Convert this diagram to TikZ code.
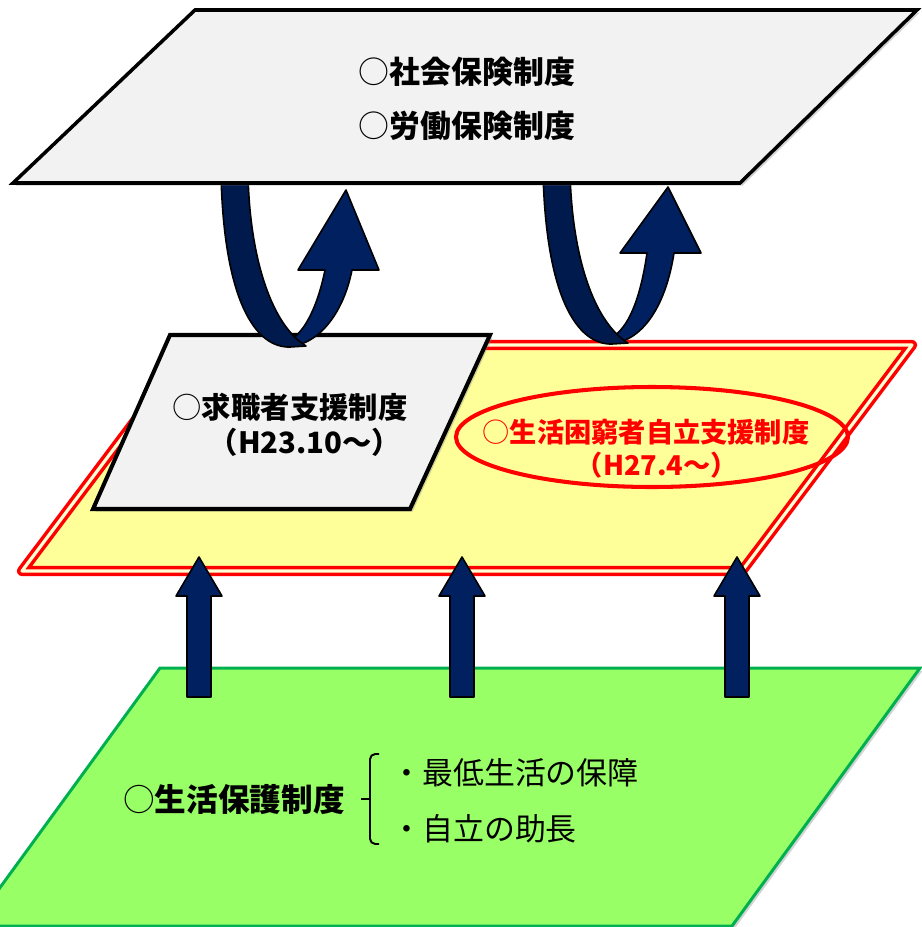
\documentclass[tikz,border=0pt]{standalone}
\usepackage{fontspec}
\setmainfont{Noto Sans CJK JP}
\usepackage{tikz}
\usetikzlibrary{shadows}

\definecolor{layergray}{HTML}{F2F2F2}
\definecolor{layeryellow}{HTML}{FFFF99}
\definecolor{layergreen}{HTML}{99FF66}
\definecolor{greenedge}{HTML}{00B050}
\definecolor{navy}{HTML}{002060}
\definecolor{navydark}{HTML}{001A4D}
\definecolor{kred}{HTML}{FF0000}
\newcommand{\maru}{{\mdseries ○}}

\begin{document}
\begin{tikzpicture}[
    x=0.02cm,y=-0.02cm,
    layer/.style={line join=miter,drop shadow={shadow xshift=1.5pt,shadow yshift=-1.5pt,opacity=.35}},
    ribbon/.style={draw=black,line width=0.9pt,line join=round},
    uparrow/.style={ribbon,fill=navy},
    bigtext/.style={font=\fontsize{17.6pt}{20pt}\selectfont\bfseries,inner sep=0pt},
    midtext/.style={font=\fontsize{16.7pt}{19pt}\selectfont\bfseries,inner sep=0pt},
    redtext/.style={font=\fontsize{15.5pt}{18pt}\selectfont\bfseries,text=kred,inner sep=0pt},
    listtext/.style={font=\fontsize{17.6pt}{20pt}\selectfont,anchor=west,inner sep=0pt}
  ]
    \useasboundingbox (0,0) rectangle (922,927);
    % bottom layer
    \filldraw[layer,fill=layergreen,draw=greenedge,line width=1.7pt]
      (-28,926) -- (732,926) -- (920,668) -- (160,668) -- cycle;
    % middle layer
    \filldraw[layer,fill=layeryellow,draw=kred,line width=2pt,
      double=white!60!layeryellow,double distance=1.8pt,line join=round]
      (22,571) -- (742,571) -- (912,345) -- (192,345) -- cycle;
    \draw[kred,line width=2.3pt] (652,437) ellipse [x radius=196,y radius=50];
    \filldraw[layer,fill=layergray,draw=black,line width=2.3pt]
      (93,509) -- (410,509) -- (490,335) -- (170,335) -- cycle;
    % u-turn arrows
    \foreach \dx/\dy/\hy in {0/0/270,322/-3/256}{
      \begin{scope}[shift={(\dx,\dy)}]
        \filldraw[ribbon,fill=navy] (282,346) .. controls (312,350) and (342,320) .. (352,\hy)
          -- (379,\hy) -- (346,190) -- (298,\hy) -- (325,\hy)
          .. controls (318,305) and (305,332) .. (290,340) -- cycle;
        \filldraw[ribbon,fill=navydark] (221,175) -- (248,175)
          .. controls (250,260) and (272,325) .. (306,346) -- (290,347)
          .. controls (255,348) and (224,300) .. (221,175) -- cycle;
      \end{scope}
    }
    % top layer
    \filldraw[layer,fill=layergray,draw=black,line width=2pt]
      (13,183) -- (740,183) -- (917,10) -- (195,10) -- cycle;
    % up arrows
    \foreach \ax in {199,462,737}
      \filldraw[uparrow] (\ax-12,697) -- (\ax-12,596) -- (\ax-23,596) -- (\ax,557)
        -- (\ax+23,596) -- (\ax+12,596) -- (\ax+12,697) -- cycle;
    % texts
    \node[bigtext] (shakai) at (467,72) {\maru 社会保険制度};
    \node[bigtext] (roudou) at (467,126) {\maru 労働保険制度};
    \node[midtext] (kyushoku) at (290,407) {\maru 求職者支援制度};
    \node[midtext] (kyushokuH) at (305,442) {（H23.10～）};
    \node[redtext] (konkyu) at (646,432) {\maru 生活困窮者自立支援制度};
    \node[redtext] (konkyuH) at (657,465) {（H27.4～）};
    \node[font=\fontsize{18pt}{20pt}\selectfont\bfseries,inner sep=0pt] (hogo) at (234,800) {\maru 生活保護制度};
    \draw[line width=1.1pt,rounded corners=3pt] (379,754) -- (370,754) -- (370,844) -- (379,844);
    \draw[line width=1.1pt] (361,799) -- (370,799);
    \node[listtext] (hosho) at (391,773) {・最低生活の保障};
    \node[listtext] (jocho) at (391,829) {・自立の助長};
  \end{tikzpicture}
\end{document}
